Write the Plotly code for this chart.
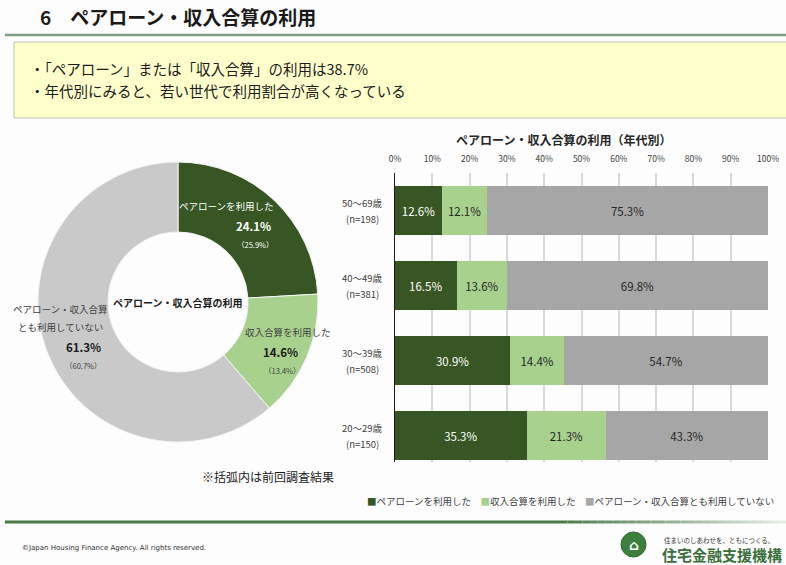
import plotly.graph_objects as go

W, H = 786, 565
FONT = "Noto Sans CJK JP"

# ---- data ----
pie_labels = ["ペアローンを利用した", "収入合算を利用した", "ペアローン・収入合算とも利用していない"]
pie_values = [24.1, 14.6, 61.3]
pie_prev = [25.9, 13.4, 60.7]
pie_label_lines = [["ペアローンを利用した"], ["収入合算を利用した"], ["ペアローン・収入合算", "とも利用していない"]]

age_groups = ["20～29歳<br>(n=150)", "30～39歳<br>(n=508)", "40～49歳<br>(n=381)", "50～69歳<br>(n=198)"]
pair_loan = [35.3, 30.9, 16.5, 12.6]
income_combined = [21.3, 14.4, 13.6, 12.1]
neither = [43.3, 54.7, 69.8, 75.3]
x_ticks = [0, 10, 20, 30, 40, 50, 60, 70, 80, 90, 100]

series_names = ["ペアローンを利用した", "収入合算を利用した", "ペアローン・収入合算とも利用していない"]

# ---- styles ----
DARK = "#375623"
LIGHT = "#a9d18e"
PIE_GRAY = "#c9c9c9"
BAR_GRAY = "#a6a6a6"
series_colors = [DARK, LIGHT, BAR_GRAY]


def px(x):
    return x / W


def py(y):
    return 1 - y / H


annotations = []
shapes = []


def ann(x, y, text, size, color="#1a1a1a", xanchor="center", family=FONT):
    annotations.append(dict(x=px(x), y=py(y), xref="paper", yref="paper", xanchor=xanchor,
                            yanchor="middle", showarrow=False, text=text,
                            font=dict(size=size, color=color, family=family)))


fig = go.Figure()

# donut
cx, cy, R = 178, 302, 140
fig.add_trace(go.Pie(
    labels=pie_labels, values=pie_values, sort=False, direction="clockwise",
    rotation=0, hole=0.5, textinfo="none", hoverinfo="label+percent",
    marker=dict(colors=[DARK, LIGHT, PIE_GRAY], line=dict(color="#f4f4f4", width=1)),
    domain=dict(x=[px(cx - R), px(cx + R)], y=[py(cy + R), py(cy - R)]),
    showlegend=False,
))

# bars
for name, vals, col, tcol in [
    (series_names[0], pair_loan, series_colors[0], "white"),
    (series_names[1], income_combined, series_colors[1], "#262626"),
    (series_names[2], neither, series_colors[2], "#262626"),
]:
    fig.add_trace(go.Bar(
        y=age_groups, x=vals, orientation="h", name=name,
        marker=dict(color=col, line=dict(width=0)),
        text=[f"{v:.1f}%" for v in vals], textposition="inside",
        insidetextanchor="middle",
        textfont=dict(family=FONT, size=11.5, color=tcol),
        xaxis="x", yaxis="y", showlegend=False,
    ))

fig.update_layout(
    width=W, height=H, margin=dict(l=0, r=0, t=0, b=0, autoexpand=False),
    paper_bgcolor="#fdfdfd", plot_bgcolor="rgba(0,0,0,0)",
    barmode="stack", bargap=0.35,
    font=dict(family=FONT, color="#404040"),
    xaxis=dict(domain=[px(395), px(768)], range=[0, 100], side="top",
               tickvals=x_ticks, ticktext=[f"{t}%" for t in x_ticks],
               tickfont=dict(size=8.5, color="#404040"),
               showgrid=True, gridcolor="#d9d9d9", gridwidth=1.5,
               zeroline=False, showline=False, fixedrange=True, automargin=False,
               ticks="", ticklabelstandoff=8),
    yaxis=dict(domain=[py(462), py(173)], range=[-0.35, 3.5],
               showticklabels=False, automargin=False,
               showline=True, linecolor="#1a1a1a", linewidth=1,
               showgrid=False, zeroline=False, ticks=""),
    showlegend=False,
)

# y category labels (centered, two lines)
for g in age_groups:
    parts = g.split("<br>")
    for j, part in enumerate(parts):
        annotations.append(dict(x=px(362), y=g, xref="paper", yref="y", xanchor="center", yanchor="middle",
                                yshift=8 - 16 * j, showarrow=False, text=part,
                                font=dict(size=9.5, color="#404040", family=FONT)))

# title and header line
ann(38, 16, "<b>6　ペアローン・収入合算の利用</b>", 19, xanchor="left")
shapes.append(dict(type="line", xref="paper", yref="paper", x0=px(5), x1=1, y0=py(35), y1=py(35),
                   line=dict(color="#7f9a85", width=2.5)))

# yellow summary box
shapes.append(dict(type="rect", xref="paper", yref="paper", x0=px(14), x1=px(800), y0=py(118), y1=py(42),
                   fillcolor="#ffffcc", line=dict(color="#c0c0b0", width=1), layer="below"))
ann(28, 68, "・「ペアローン」または「収入合算」の利用は38.7%", 14.5, xanchor="left")
ann(28, 90, "・年代別にみると、若い世代で利用割合が高くなっている", 14.5, xanchor="left")

# donut center label
ann(cx, cy, "<b>ペアローン・収入合算の利用</b>", 10)

# donut slice labels
slice_pos = [(226, 206), (288, 332), (60, 309)]
slice_col = ["white", "#404040", "#404040"]
pct_col = ["white", "#1a1a1a", "#1a1a1a"]
pct_dx = [27, -8, 23]
prev_dx = [29, -6, 23]
for i in range(3):
    x0, y0 = slice_pos[i]
    yy = y0
    for line in pie_label_lines[i]:
        ann(x0, yy, line, 9.5, slice_col[i])
        yy += 18
    ann(x0 + pct_dx[i], yy + 2, f"<b>{pie_values[i]:.1f}%</b>", 11.5, pct_col[i])
    ann(x0 + prev_dx[i], yy + 20, f"（{pie_prev[i]:.1f}%）", 7.5, slice_col[i])

ann(200, 476, "※括弧内は前回調査結果", 12, xanchor="left")

# bar chart title
ann(563, 140, "<b>ペアローン・収入合算の利用（年代別）</b>", 12, "#262626")

# custom legend
legend_text = "　".join(f"<span style='color:{c}'>■</span>{n}" for n, c in zip(series_names, series_colors))
ann(570, 501, legend_text, 9.5, "#404040")

# footer gradient line
n_seg = 30
start, end = 5, 786
fade_start = 560
shapes.append(dict(type="line", xref="paper", yref="paper", x0=px(start), x1=px(fade_start), y0=py(522), y1=py(522),
                   line=dict(color="#4a7a4a", width=3)))
for k in range(n_seg):
    a = fade_start + (end - fade_start) * k / n_seg
    b = fade_start + (end - fade_start) * (k + 1) / n_seg
    t = k / n_seg
    r = int(0x4a + (0xe8 - 0x4a) * t)
    g = int(0x7a + (0xf0 - 0x7a) * t)
    bb = int(0x4a + (0xe8 - 0x4a) * t)
    shapes.append(dict(type="line", xref="paper", yref="paper", x0=px(a), x1=px(b), y0=py(522), y1=py(522),
                       line=dict(color=f"rgb({r},{g},{bb})", width=3)))

ann(20, 548, "©Japan Housing Finance Agency. All rights reserved.", 7, "#333333",
    xanchor="left", family="DejaVu Sans")

# logo
shapes.append(dict(type="circle", xref="paper", yref="paper", x0=px(621), x1=px(646), y0=py(557), y1=py(532),
                   fillcolor="#3d7f3d", line=dict(color="#2e6a2e", width=1)))
ann(633.5, 545, "<b>⌂</b>", 14, "white", family="DejaVu Sans")
ann(662, 540, "住まいのしあわせを、ともにつくる。", 6.5, "#333333", xanchor="left")
ann(660, 554, "<b>住宅金融支援機構</b>", 15, "#3a6f3a", xanchor="left")

fig.update_layout(shapes=shapes, annotations=annotations)
fig.write_html("out.html")
